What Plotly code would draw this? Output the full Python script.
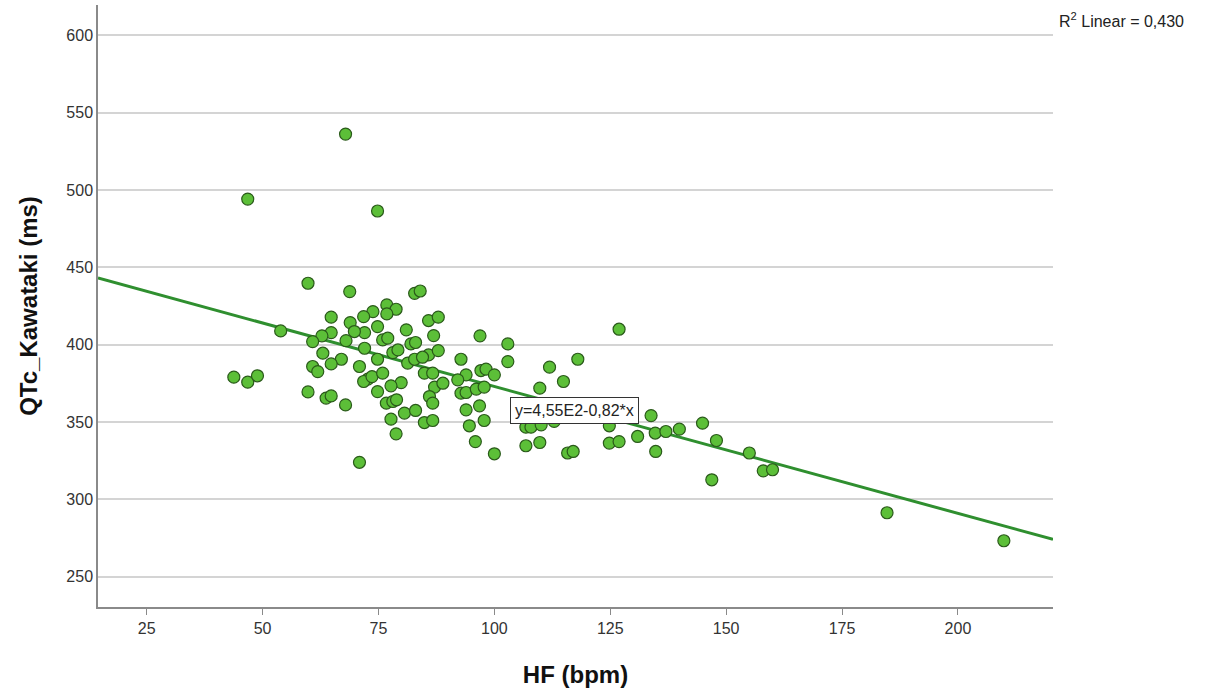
import plotly.graph_objects as go

# HF (bpm)
hf = [67.9, 46.8, 74.8, 59.8, 68.8, 53.9, 43.8, 46.8, 48.9, 76.8,
      78.8, 76.8, 73.8, 71.8, 64.8, 68.9, 74.8, 72.0, 64.8, 69.8,
      62.8, 60.8, 68.0, 75.9, 77.0, 72.0, 63.0, 78.1, 79.2, 67.0,
      64.8, 60.8, 70.9, 81.0, 81.3, 74.8, 61.9, 72.7, 71.8, 73.6,
      75.9, 79.9, 77.7, 74.8, 59.8, 63.7, 64.8, 67.9, 76.7, 78.1,
      78.9, 80.6, 77.7, 78.8, 70.9, 82.8, 84.0, 85.8, 87.9, 86.9,
      82.0, 83.0, 85.8, 87.9, 96.9, 102.9, 102.9, 92.8, 82.8, 84.5,
      84.9, 86.7, 97.1, 98.2, 100.0, 93.9, 92.1, 87.1, 88.9, 92.8,
      93.9, 96.1, 97.8, 86.0, 86.7, 93.9, 96.8, 83.0, 84.9, 86.7,
      97.8, 94.6, 95.9, 100.0, 126.9, 111.9, 118.0, 114.9, 109.8, 106.8,
      107.9, 110.1, 112.9, 124.8, 133.8, 134.7, 130.9, 124.8, 126.9, 106.8,
      109.8, 115.8, 117.0, 134.8, 137.0, 139.9, 144.9, 147.9, 155.0, 146.9,
      158.0, 160.0, 184.7, 209.9]

# QTc_Kawataki (ms)
qtc = [536.1, 494.1, 486.4, 439.7, 434.3, 408.9, 379.0, 375.8, 379.9, 425.7,
       422.9, 419.9, 421.4, 418.1, 417.8, 414.3, 411.7, 407.8, 407.8, 408.5,
       405.7, 402.0, 402.6, 403.1, 404.2, 397.7, 394.5, 394.9, 396.6, 390.6,
       387.6, 385.9, 385.9, 409.6, 388.1, 390.6, 382.6, 377.7, 376.2, 379.4,
       381.6, 375.5, 373.4, 369.7, 369.5, 365.5, 366.9, 361.1, 362.2, 363.3,
       364.4, 355.8, 351.9, 342.4, 324.0, 433.2, 434.7, 415.6, 417.8, 405.9,
       400.5, 401.4, 393.4, 396.2, 405.7, 400.5, 389.1, 390.6, 390.6, 391.9,
       381.6, 381.6, 383.3, 384.2, 380.5, 380.5, 377.3, 372.6, 375.1, 368.7,
       369.1, 371.3, 372.6, 366.5, 362.2, 357.9, 360.5, 357.5, 349.7, 351.0,
       351.0, 347.6, 337.4, 329.5, 410.0, 385.5, 390.6, 376.2, 371.9, 346.7,
       346.7, 348.2, 350.4, 347.6, 354.2, 342.9, 340.7, 336.4, 337.4, 334.7,
       336.8, 330.0, 331.0, 331.0, 343.9, 345.4, 349.3, 338.1, 330.0, 312.7,
       318.5, 319.2, 291.4, 273.3]

# Fit reported in the chart
intercept = 455.0
slope = -0.82
x_range = [14.5, 220.5]
y_range = [230.5, 619.5]
x_ticks = [25, 50, 75, 100, 125, 150, 175, 200]
y_ticks = [250, 300, 350, 400, 450, 500, 550, 600]
eq_label = "y=4,55E2-0,82*x"
r2_label = "R<sup>2</sup> Linear = 0,430"

fit_x = x_range
fit_y = [intercept + slope * v for v in fit_x]

fig = go.Figure()
fig.add_trace(go.Scatter(
    x=fit_x, y=fit_y, mode="lines",
    line=dict(color="#2f8f2f", width=3),
    hoverinfo="skip", showlegend=False,
))
fig.add_trace(go.Scatter(
    x=hf, y=qtc, mode="markers",
    marker=dict(size=12, color="#5cbf38",
                line=dict(color="#2a5a1a", width=1.2)),
    showlegend=False,
))

fig.add_annotation(
    x=117.2, y=357.5, xref="x", yref="y", text=eq_label, showarrow=False,
    font=dict(family="Liberation Sans, Arial", size=16, color="#222"),
    bgcolor="white", bordercolor="#333", borderwidth=1, borderpad=4,
)
fig.add_annotation(
    x=1.004, y=0.975, xref="paper", yref="paper", text=r2_label,
    showarrow=False, xanchor="left", yanchor="middle",
    font=dict(family="Liberation Sans, Arial", size=16, color="#222"),
)

fig.update_layout(
    width=1215, height=698,
    margin=dict(l=98, r=162, t=5, b=91),
    paper_bgcolor="white", plot_bgcolor="white",
    font=dict(family="Liberation Sans, Arial", color="#333"),
    xaxis=dict(
        range=x_range, tickvals=x_ticks, showgrid=False, zeroline=False,
        showline=True, linecolor="#8a8a8a", linewidth=1.5,
        ticks="outside", ticklen=6, tickcolor="#8a8a8a",
        tickfont=dict(size=16, color="#333"),
        title=dict(text="<b>HF (bpm)</b>", font=dict(size=24, color="#111"), standoff=30),
    ),
    yaxis=dict(
        range=y_range, tickvals=y_ticks, showgrid=True, gridcolor="#d4d4d4",
        gridwidth=1.5, zeroline=False,
        showline=True, linecolor="#8a8a8a", linewidth=1.5,
        ticks="", ticklen=0,
        tickfont=dict(size=16, color="#333"),
        title=dict(text="<b>QTc_Kawataki (ms)</b>", font=dict(size=24, color="#111"), standoff=22),
    ),
)

fig.write_html("out.html")
